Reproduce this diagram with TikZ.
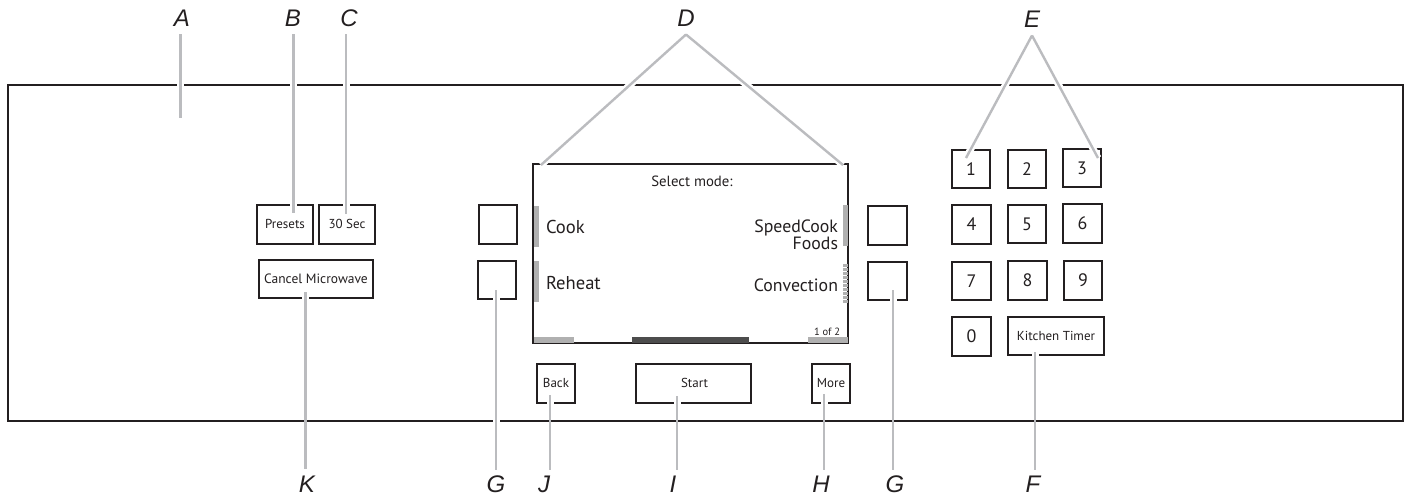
\documentclass[tikz,border=0pt]{standalone}
\usepackage{fontspec}
\setmainfont{PT Sans}
\newfontfamily\lblfont{Liberation Sans}
\definecolor{ink}{HTML}{231F20}
\definecolor{leadgray}{HTML}{BBBCBF}
\definecolor{bargray}{HTML}{B0B0B0}
\definecolor{bardark}{HTML}{4D4D4D}
\tikzset{
  btn/.style={draw=ink,line width=1.7pt,fill=white,inner sep=0pt,outer sep=0pt,text=ink,text depth=0pt,text height=8.5pt,font=\fontsize{13}{14}\selectfont},
  digit/.style={btn,minimum width=38.5pt,minimum height=38.5pt,text height=12pt,font=\fontsize{18}{20}\selectfont},
  softkey/.style={btn,minimum width=38.5pt,minimum height=38.5pt},
  lbltop/.style={inner sep=0pt,outer sep=8pt,text height=17pt,text depth=0pt,text=ink,font=\lblfont\itshape\fontsize{24}{26}\selectfont},
  lblbot/.style={lbltop,outer sep=6pt},
  scrtext/.style={inner sep=0pt,outer sep=0pt,text=ink},
  big/.style={scrtext,font=\fontsize{18.6}{20}\selectfont},
  bigr/.style={scrtext,font=\fontsize{17.8}{20}\selectfont},
  halo/.style={draw=white,line width=7pt},
  leader/.style={draw=leadgray,line width=2.4pt},
  bar/.style={fill=bargray,draw=none},
}
\begin{document}
\begin{tikzpicture}[x=1pt,y=-1pt]
\useasboundingbox (0,0) rectangle (1406,495);
% panel
\node[draw=ink,line width=1.9pt,minimum width=1395pt,minimum height=336pt,inner sep=0pt,outer sep=0pt] (panel) at (705.5,253) {};
% screen
\node[draw=ink,line width=2pt,minimum width=315pt,minimum height=179pt,inner sep=0pt,outer sep=0pt] (screen) at (690.5,253.5) {};
\fill[bar] (534,206) rectangle (539,247);
\fill[bar] (534,261) rectangle (539,302);
\fill[bar] (843,205) rectangle (848,246);
\foreach \yy in {264,268,...,301}{\fill[bar] (843,\yy) rectangle (848,\yy+2.6);}
\fill[bar] (534,337) rectangle (574,342.5);
\fill[bardark] (632,337) rectangle (749,342.5);
\fill[bar] (808,337) rectangle (848,342.5);
\node[scrtext,anchor=base,font=\fontsize{14.8}{16}\selectfont] (selmode) at (692,186) {Select mode:};
\node[big,anchor=base west] (cook) at (546,233) {Cook};
\node[big,anchor=base west] (reheat) at (546,289) {Reheat};
\node[bigr,anchor=base east] (speed) at (838,232) {SpeedCook};
\node[bigr,anchor=base east] (foods) at (838,249) {Foods};
\node[bigr,anchor=base east] (conv) at (838,291) {Convection};
\node[scrtext,anchor=base east,font=\fontsize{10.5}{12}\selectfont] (page) at (840,335) {1 of 2};
% left buttons
\node[btn,minimum width=56pt,minimum height=39pt] (presets) at (285,224.5) {Presets};
\node[btn,minimum width=56pt,minimum height=39pt] (thirty) at (347,224.5) {30 Sec};
\node[btn,minimum width=114pt,minimum height=38pt,font=\fontsize{13.5}{14}\selectfont] (cancel) at (316,279) {Cancel Microwave};
% soft keys
\node[softkey] (g1) at (498,224.5) {};
\node[softkey] (g2) at (497,280) {};
\node[softkey] (g3) at (887.5,225.5) {};
\node[softkey] (g4) at (887.5,281) {};
% keypad
\node[digit] (k1) at (971,169) {1};
\node[digit] (k2) at (1027,169) {2};
\node[digit] (k3) at (1082,168) {3};
\node[digit] (k4) at (971.5,224.5) {4};
\node[digit] (k5) at (1027,224) {5};
\node[digit] (k6) at (1082.5,223.5) {6};
\node[digit] (k7) at (971.5,281) {7};
\node[digit] (k8) at (1027.5,280.5) {8};
\node[digit] (k9) at (1083,280.5) {9};
\node[digit] (k0) at (971.5,336.5) {0};
\node[btn,minimum width=96pt,minimum height=38pt] (timer) at (1056,336) {Kitchen Timer};
% bottom buttons
\node[btn,minimum width=38pt,minimum height=39pt] (back) at (556,383.5) {Back};
\node[btn,minimum width=115pt,minimum height=39pt] (start) at (693.5,383.5) {\hspace{2pt}Start};
\node[btn,minimum width=38pt,minimum height=39pt] (more) at (831,383.5) {More};
% labels
\node[lbltop] (A) at (182,18) {A};
\node[lbltop] (B) at (293,18) {B};
\node[lbltop] (C) at (349,18) {C};
\node[lbltop] (D) at (686,18) {D};
\node[lbltop] (E) at (1032,19) {E};
\node[lblbot] (K) at (307,483.5) {K};
\node[lblbot] (Gl) at (496,484) {G};
\node[lblbot] (J) at (544,484) {J};
\node[lblbot] (I) at (673,484) {I};
\node[lblbot] (H) at (821,484) {H};
\node[lblbot] (Gr) at (895,484) {G};
\node[lblbot] (F) at (1033,484) {F};
% leader tips
\coordinate (tA) at (180.5,118);
\coordinate (tB) at (293.5,213);
\coordinate (tC) at (346,214);
\coordinate (tD1) at (541,165);
\coordinate (tD2) at (843,165);
\coordinate (tE1) at (966,158);
\coordinate (tE3) at (1098,158);
\coordinate (tK) at (305.5,292);
\coordinate (tGl) at (496,290);
\coordinate (tJ) at (550,395);
\coordinate (tI) at (677,396);
\coordinate (tH) at (824,394);
\coordinate (tGr) at (893,290);
\coordinate (tF) at (1035,352);
% halos
\draw[halo] (tA |- A.south) -- (tA);
\draw[halo] (tB |- B.south) -- (tB);
\draw[halo] (tC |- C.south) -- (tC);
\draw[halo] (D.south) -- (tD1);
\draw[halo] (D.south) -- (tD2);
\draw[halo] (E.south) -- (tE1);
\draw[halo] (E.south) -- (tE3);
\draw[halo] (tGl |- Gl.north) -- (tGl);
\draw[halo,shorten <=164pt] (tK |- K.north) -- (tK);
\draw[halo,shorten <=62pt] (tJ |- J.north) -- (tJ);
\draw[halo,shorten <=62pt] (tI |- I.north) -- (tI);
\draw[halo,shorten <=62pt] (tH |- H.north) -- (tH);
\draw[halo,shorten <=162pt] (tGr |- Gr.north) -- (tGr);
\draw[halo,shorten <=108pt] (tF |- F.north) -- (tF);
% leaders
\draw[leader] (tA |- A.south) -- (tA);
\draw[leader] (tB |- B.south) -- (tB);
\draw[leader] (tC |- C.south) -- (tC);
\draw[leader] (D.south) -- (tD1);
\draw[leader] (D.south) -- (tD2);
\draw[leader] (E.south) -- (tE1);
\draw[leader] (E.south) -- (tE3);
\draw[leader] (tK |- K.north) -- (tK);
\draw[leader] (tGl |- Gl.north) -- (tGl);
\draw[leader] (tJ |- J.north) -- (tJ);
\draw[leader] (tI |- I.north) -- (tI);
\draw[leader] (tH |- H.north) -- (tH);
\draw[leader] (tGr |- Gr.north) -- (tGr);
\draw[leader] (tF |- F.north) -- (tF);
\end{tikzpicture}
\end{document}
